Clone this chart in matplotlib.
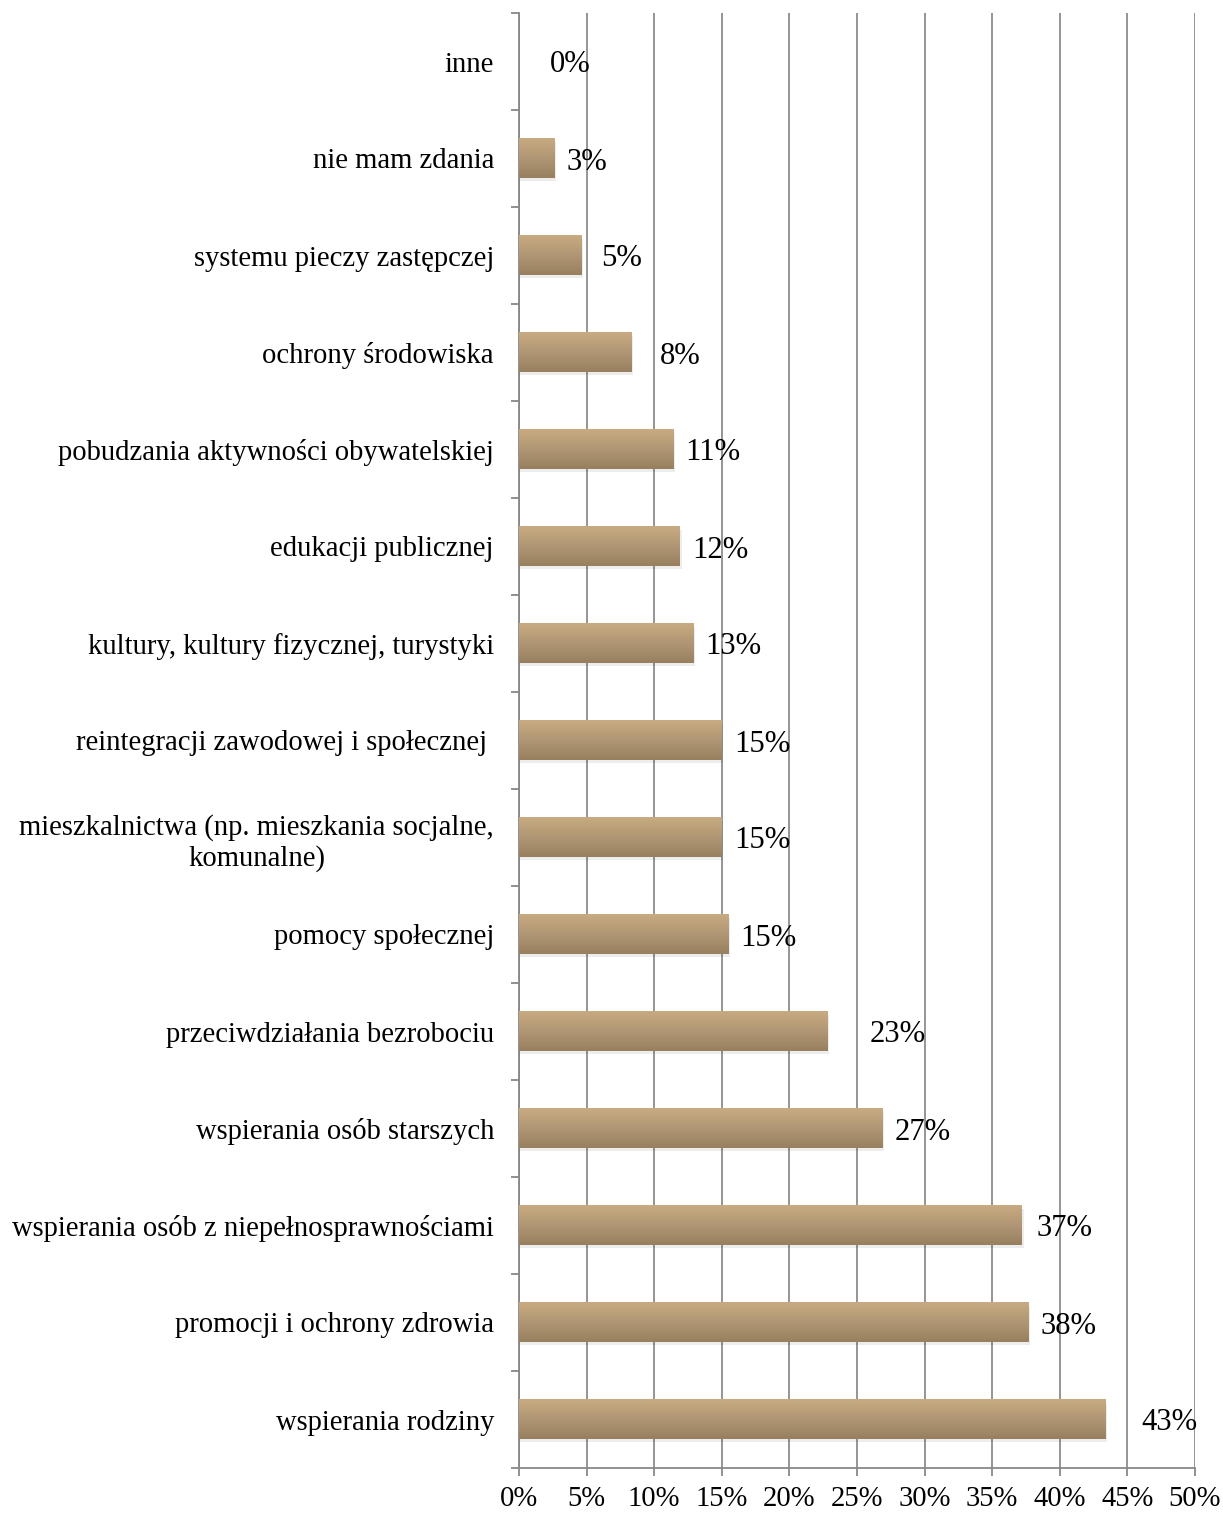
import numpy as np
import matplotlib.pyplot as plt
import matplotlib.colors as mcolors

# kategorie od gory do dolu
categories = [
    'inne',
    'nie mam zdania',
    'systemu pieczy zastępczej',
    'ochrony środowiska',
    'pobudzania aktywności obywatelskiej',
    'edukacji publicznej',
    'kultury, kultury fizycznej, turystyki',
    'reintegracji zawodowej i społecznej ',
    'mieszkalnictwa (np. mieszkania socjalne,\nkomunalne)',
    'pomocy społecznej',
    'przeciwdziałania bezrobociu',
    'wspierania osób starszych',
    'wspierania osób z niepełnosprawnościami',
    'promocji i ochrony zdrowia',
    'wspierania rodziny',
]
values = [0.0, 2.6, 4.6, 8.3, 11.4, 11.9, 12.9, 15.0, 15.0, 15.5, 22.8, 26.9, 37.2, 37.7, 43.4]
value_labels = ['0%', '3%', '5%', '8%', '11%', '12%', '13%', '15%', '15%', '15%',
                '23%', '27%', '37%', '38%', '43%']
# dodatkowe przesuniecie etykiet (w %), jak w oryginale
label_nudge = [1.4, 0, 0.6, 1.2, 0, 0, 0, 0, 0, 0, 2.2, 0, 0.2, 0, 1.7]
xticks = np.arange(0, 51, 5)

plt.rcParams['font.family'] = ['Liberation Serif', 'DejaVu Serif']
fs = 20.6

fig = plt.figure(figsize=(12.23, 15.14), dpi=100)
ax = fig.add_axes([519/1223, 1 - 1468/1514, (1195-519)/1223, (1468-13)/1514])

n = len(categories)
y = np.arange(n)
bars = ax.barh(y, values, height=0.41, color='none', zorder=3)

# gradient w slupkach
grad = mcolors.LinearSegmentedColormap.from_list('g', ['#c8ab81', '#b09674', '#98805f'])
img = np.linspace(0, 1, 100).reshape(-1, 1)
for b in bars:
    x0, y0 = b.get_x(), b.get_y()
    w, h = b.get_width(), b.get_height()
    if w <= 0:
        continue
    # cien
    ax.add_patch(plt.Rectangle((x0, y0 + 0.03), w + 0.12, h, color='#000000', alpha=0.07,
                               zorder=2, lw=0))
    ax.imshow(img, cmap=grad, aspect='auto', extent=(x0, x0 + w, y0 + h, y0), zorder=3)

ax.set_xlim(0, 50)
ax.set_ylim(n - 0.5, -0.5)

for i, (v, t) in enumerate(zip(values, value_labels)):
    ax.text(v + 0.9 + label_nudge[i], i, t, va='center_baseline', ha='left',
            fontsize=fs + 1.5, zorder=4)

ax.set_xticks(xticks)
ax.set_xticklabels([f'{t}%' for t in xticks], fontsize=fs)
ax.set_yticks(np.arange(-0.5, n, 1), minor=False)
ax.set_yticklabels([])
ax.set_yticks(y, minor=True)
ax.set_yticklabels(categories, minor=True, fontsize=fs, ha='right', multialignment='center')
ax.tick_params(axis='y', which='minor', length=0, pad=18)
ax.tick_params(axis='y', which='major', length=6, color='#888888', width=1.3)
ax.tick_params(axis='x', length=6, color='#888888', width=1.3, pad=7)

ax.grid(axis='x', color='#8c8c8c', lw=1.3, zorder=0)
ax.set_axisbelow(True)
for s in ['top', 'right']:
    ax.spines[s].set_visible(False)
for s in ['left', 'bottom']:
    ax.spines[s].set_color('#888888')
    ax.spines[s].set_linewidth(1.3)

plt.savefig('out.png', dpi=100)
